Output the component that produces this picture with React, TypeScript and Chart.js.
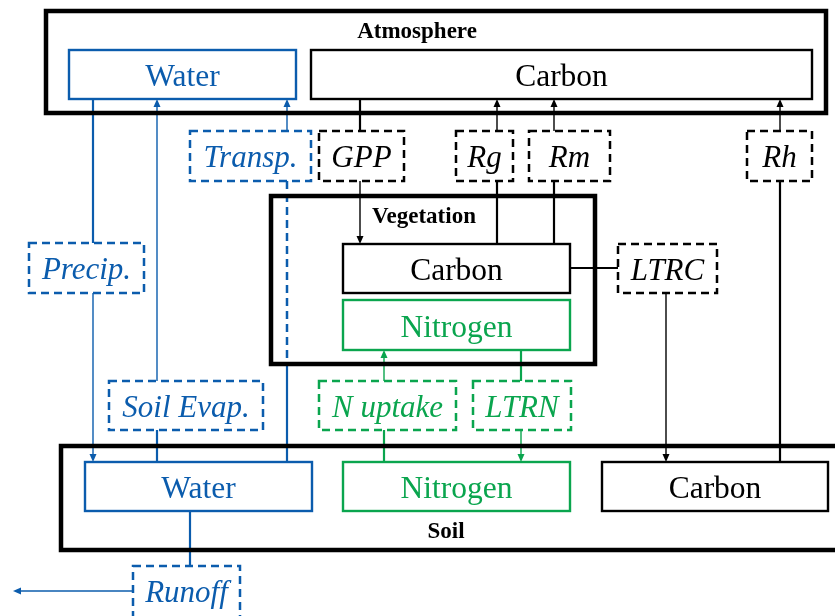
import React, { useEffect, useRef } from "react";
import { Chart, registerables } from "chart.js";

Chart.register(...registerables);

const BLUE = "#0b5cad";
const GREEN = "#0aa54e";
const BLACK = "#000000";

// Containers: label, rect, label baseline position
const containerLabels = ["Atmosphere", "Vegetation", "Soil"];
const containerRects = [
  [46, 11, 826, 113],
  [271, 196, 595, 364],
  [61, 446, 845, 550],
];
const containerLabelPos = [
  [417, 38],
  [424, 223],
  [446, 538],
];

// Pools (solid boxes)
const poolLabels = ["Water", "Carbon", "Carbon", "Nitrogen", "Water", "Nitrogen", "Carbon"];
const poolColors = [BLUE, BLACK, BLACK, GREEN, BLUE, GREEN, BLACK];
const poolRects = [
  [69, 50, 296, 99],
  [311, 50, 812, 99],
  [343, 244, 570, 293],
  [343, 300, 570, 350],
  [85, 462, 312, 511],
  [343, 462, 570, 511],
  [602, 462, 828, 511],
];

// Fluxes (dashed boxes, italic)
const fluxLabels = ["Transp.", "GPP", "Rg", "Rm", "Rh", "Precip.", "LTRC", "Soil Evap.", "N uptake", "LTRN", "Runoff"];
const fluxColors = [BLUE, BLACK, BLACK, BLACK, BLACK, BLUE, BLACK, BLUE, GREEN, GREEN, BLUE];
const fluxRects = [
  [190, 131, 311, 181],
  [319, 131, 404, 181],
  [456, 131, 513, 181],
  [529, 131, 610, 181],
  [747, 131, 812, 181],
  [29, 243, 144, 293],
  [618, 244, 717, 293],
  [109, 381, 263, 430],
  [319, 381, 456, 430],
  [473, 381, 571, 430],
  [133, 566, 240, 622],
];

// Solid connectors (no arrow head)
const connectorColors = [BLUE, BLUE, BLUE, BLUE, BLACK, BLACK, BLACK, BLACK, BLACK, GREEN, GREEN];
const connectorPaths = [
  [[93, 99], [93, 243]],
  [[157, 430], [157, 462]],
  [[287, 364], [287, 462]],
  [[190, 511], [190, 566]],
  [[360, 99], [360, 131]],
  [[497, 181], [497, 244]],
  [[554, 181], [554, 244]],
  [[570, 268], [618, 268]],
  [[780, 181], [780, 462]],
  [[384, 430], [384, 462]],
  [[521, 350], [521, 381]],
];

// Dashed connectors
const dashedConnectorColors = [BLUE];
const dashedConnectorPaths = [[[287, 181], [287, 364]]];

// Arrows (head at the end point)
const arrowColors = [BLUE, BLUE, BLUE, BLUE, BLACK, BLACK, BLACK, BLACK, BLACK, GREEN, GREEN];
const arrowPaths = [
  [[93, 293], [93, 462]],
  [[157, 381], [157, 99]],
  [[287, 131], [287, 99]],
  [[133, 591], [13, 591]],
  [[360, 181], [360, 244]],
  [[497, 131], [497, 99]],
  [[554, 131], [554, 99]],
  [[780, 131], [780, 99]],
  [[666, 293], [666, 462]],
  [[384, 381], [384, 350]],
  [[521, 430], [521, 462]],
];

const SERIF = '"Liberation Serif", "Times New Roman", serif';

const diagramPlugin = {
  id: "diagram",
  afterDraw(chart: any) {
    const ctx: CanvasRenderingContext2D = chart.ctx;
    const xs = chart.scales.x;
    const ys = chart.scales.y;
    const px = (v: number) => xs.getPixelForValue(v);
    const py = (v: number) => ys.getPixelForValue(v);

    const rect = (r: number[], color: string, lw: number, dash: number[]) => {
      ctx.save();
      ctx.strokeStyle = color;
      ctx.lineWidth = lw;
      ctx.setLineDash(dash);
      const x0 = px(r[0]), y0 = py(r[1]), x1 = px(r[2]), y1 = py(r[3]);
      ctx.strokeRect(x0, y0, x1 - x0, y1 - y0);
      ctx.restore();
    };
    const text = (t: string, x: number, y: number, color: string, font: string) => {
      ctx.save();
      ctx.fillStyle = color;
      ctx.font = font;
      ctx.textAlign = "center";
      ctx.textBaseline = "alphabetic";
      ctx.fillText(t, px(x), py(y));
      ctx.restore();
    };
    const path = (pts: number[][], color: string, lw: number, dash: number[]) => {
      ctx.save();
      ctx.strokeStyle = color;
      ctx.lineWidth = lw;
      ctx.setLineDash(dash);
      ctx.beginPath();
      pts.forEach((p, i) => {
        if (i === 0) ctx.moveTo(px(p[0]), py(p[1]));
        else ctx.lineTo(px(p[0]), py(p[1]));
      });
      ctx.stroke();
      ctx.restore();
    };
    const arrow = (pts: number[][], color: string) => {
      const a = pts[pts.length - 2];
      const b = pts[pts.length - 1];
      const ax = px(a[0]), ay = py(a[1]), bx = px(b[0]), by = py(b[1]);
      const ang = Math.atan2(by - ay, bx - ax);
      const L = 8, W = 3.5;
      ctx.save();
      ctx.strokeStyle = color;
      ctx.fillStyle = color;
      ctx.lineWidth = 1.4;
      ctx.beginPath();
      ctx.moveTo(ax, ay);
      ctx.lineTo(bx - Math.cos(ang) * L * 0.8, by - Math.sin(ang) * L * 0.8);
      ctx.stroke();
      ctx.beginPath();
      ctx.moveTo(bx, by);
      ctx.lineTo(bx - Math.cos(ang) * L - Math.sin(ang) * W, by - Math.sin(ang) * L + Math.cos(ang) * W);
      ctx.lineTo(bx - Math.cos(ang) * L + Math.sin(ang) * W, by - Math.sin(ang) * L - Math.cos(ang) * W);
      ctx.closePath();
      ctx.fill();
      ctx.restore();
    };

    connectorPaths.forEach((p, i) => path(p, connectorColors[i], 2.2, []));
    dashedConnectorPaths.forEach((p, i) => path(p, dashedConnectorColors[i], 2.5, [8, 5]));
    arrowPaths.forEach((p, i) => arrow(p, arrowColors[i]));

    containerRects.forEach((r, i) => {
      rect(r, BLACK, 4.5, []);
      const lp = containerLabelPos[i];
      text(containerLabels[i], lp[0], lp[1], BLACK, `bold 23px ${SERIF}`);
    });

    poolRects.forEach((r, i) => {
      ctx.save();
      ctx.fillStyle = "#ffffff";
      ctx.fillRect(px(r[0]), py(r[1]), px(r[2]) - px(r[0]), py(r[3]) - py(r[1]));
      ctx.restore();
      rect(r, poolColors[i], 2.4, []);
      text(poolLabels[i], (r[0] + r[2]) / 2, (r[1] + r[3]) / 2 + 11.5, poolColors[i], `31.5px ${SERIF}`);
    });

    fluxRects.forEach((r, i) => {
      ctx.save();
      ctx.fillStyle = "#ffffff";
      ctx.fillRect(px(r[0]), py(r[1]), px(r[2]) - px(r[0]), py(r[3]) - py(r[1]));
      ctx.restore();
      rect(r, fluxColors[i], 2.5, [8, 5]);
      const by = i === fluxRects.length - 1 ? 602 : (r[1] + r[3]) / 2 + 11;
      text(fluxLabels[i], (r[0] + r[2]) / 2, by, fluxColors[i], `italic 31px ${SERIF}`);
    });
  },
};

export default function App() {
  const ref = useRef<HTMLCanvasElement | null>(null);
  useEffect(() => {
    if (!ref.current) return;
    const chart = new Chart(ref.current, {
      type: "scatter",
      data: { datasets: [{ data: [], pointRadius: 0 }] },
      options: {
        animation: false,
        responsive: false,
        maintainAspectRatio: false,
        layout: { padding: 0 },
        plugins: { legend: { display: false }, tooltip: { enabled: false } },
        scales: {
          x: { type: "linear", min: 0, max: 835, display: false },
          y: { type: "linear", min: 0, max: 616, reverse: true, display: false },
        },
      },
      plugins: [diagramPlugin],
    });
    return () => chart.destroy();
  }, []);
  return (
    <div style={{ position: "fixed", left: 0, top: 0, width: 835, height: 616, background: "#fff" }}>
      <canvas ref={ref} width={835} height={616} style={{ width: 835, height: 616 }} />
    </div>
  );
}
